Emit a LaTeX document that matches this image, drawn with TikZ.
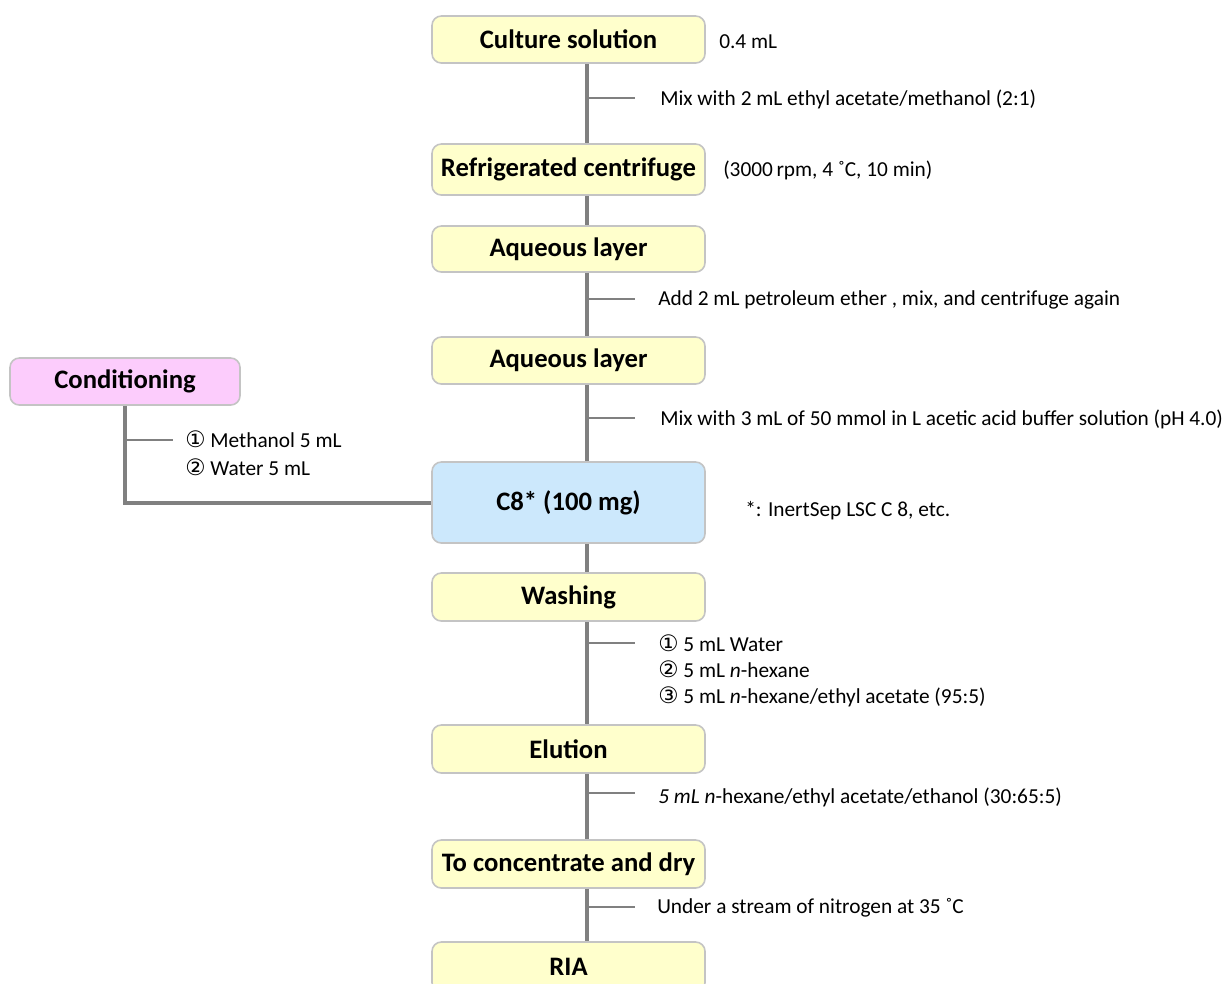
\documentclass[tikz,border=0pt]{standalone}
\usepackage{fontspec}
\setmainfont{Carlito}
\newfontfamily\symfont{DejaVu Sans}
\newdimen\px \px=0.75pt
\newcommand\cnum[1]{{\symfont\fontsize{17}{19.5}\selectfont #1}}
\definecolor{boxline}{HTML}{C4C4C4}
\definecolor{yel}{HTML}{FFFFCC}
\definecolor{blu}{HTML}{CCE8FC}
\definecolor{pnk}{HTML}{FCCCFC}
\definecolor{spinegray}{HTML}{808080}
\begin{document}
\begin{tikzpicture}[x=0.75pt,y=-0.75pt,
  stepbox/.style={draw=boxline, line width=1.2pt, rounded corners=7pt, fill=yel,
    minimum width=273\px, inner sep=0pt, font=\fontsize{20}{24}\selectfont\bfseries},
  bluebox/.style={stepbox, fill=blu},
  pinkbox/.style={stepbox, fill=pnk, minimum width=230\px},
  spine/.style={draw=spinegray, line width=3pt},
  tick/.style={draw=spinegray, line width=1.1pt},
  note/.style={anchor=west, inner sep=0pt, font=\fontsize{16}{19.5}\selectfont, align=left}]
\useasboundingbox (0,0) rectangle (1227,983);
\clip (0,0) rectangle (1227,983);
\fill[white] (0,0) rectangle (1227,983);
\coordinate (sp) at (587,0);
% boxes
\node[stepbox, minimum height=47\px] (culture) at (568.5,39.5) {Culture solution};
\node[stepbox, minimum height=51\px] (centr) at (568.5,169.5) {Refrigerated centrifuge};
\node[stepbox, minimum height=46\px] (aq1) at (568.5,249) {Aqueous layer};
\node[stepbox, minimum height=47\px] (aq2) at (568.5,360.5) {Aqueous layer};
\node[bluebox, minimum height=81\px] (c8) at (568.5,502.5) {C8* (100 mg)};
\node[stepbox, minimum height=48\px] (wash) at (568.5,597) {Washing};
\node[stepbox, minimum height=48\px] (elut) at (568.5,749) {Elution};
\node[stepbox, minimum height=48\px] (conc) at (568.5,864) {To concentrate and dry};
\node[stepbox, minimum height=50\px] (ria) at (568.5,967) {RIA};
\node[pinkbox, minimum height=47\px] (cond) at (125,381.5) {Conditioning};
% spine
\draw[spine] (culture.south -| sp) -- (centr.north -| sp);
\draw[spine] (centr.south -| sp) -- (aq1.north -| sp);
\draw[spine] (aq1.south -| sp) -- (aq2.north -| sp);
\draw[spine] (aq2.south -| sp) -- (c8.north -| sp);
\draw[spine] (c8.south -| sp) -- (wash.north -| sp);
\draw[spine] (wash.south -| sp) -- (elut.north -| sp);
\draw[spine] (elut.south -| sp) -- (conc.north -| sp);
\draw[spine] (conc.south -| sp) -- (ria.north -| sp);
\draw[spine] (cond.south) |- (c8.west);
% ticks
\coordinate (k1) at (587,98);
\coordinate (k2) at (587,299);
\coordinate (k3) at (587,418);
\coordinate (k4) at (125,440);
\coordinate (k5) at (587,643);
\coordinate (k6) at (587,793);
\coordinate (k7) at (587,907);
\draw[tick] (k1) -- ++(48,0);
\draw[tick] (k2) -- ++(48,0);
\draw[tick] (k3) -- ++(48,0);
\draw[tick] (k4) -- ++(48,0);
\draw[tick] (k5) -- ++(48,0);
\draw[tick] (k6) -- ++(48,0);
\draw[tick] (k7) -- ++(48,0);
% notes
\node[note] (n0) at (719,42) {0.4 mL};
\node[note] (n1) at (660,99) {Mix with 2 mL ethyl acetate/methanol (2:1)};
\node[note] (n2) at (723,170) {(3000\,rpm, 4 ˚C, 10 min)};
\node[note] (n3) at (658,300) {Add 2 mL petroleum ether , mix, and centrifuge again};
\node[note] (n4) at (660,419) {Mix with 3 mL of 50 mmol in L acetic acid buffer solution (pH 4.0)};
\node[note] (n5) at (745,511) {*: InertSep LSC C 8, etc.};
\node[note] (n6) at (185,453.5) {\cnum{①} Methanol 5 mL\\[1.5pt]\cnum{②} Water 5 mL};
\node[note] (n7) at (658,671) {\cnum{①} 5 mL Water\\\cnum{②} 5 mL \textit{n}-hexane\\\cnum{③} 5 mL \textit{n}-hexane/ethyl acetate (95:5)};
\node[note] (n8) at (658,797) {\textit{5 mL n}-hexane/ethyl acetate/ethanol (30:65:5)};
\node[note] (n9) at (657,908) {Under a stream of nitrogen at 35 ˚C};
\end{tikzpicture}
\end{document}
